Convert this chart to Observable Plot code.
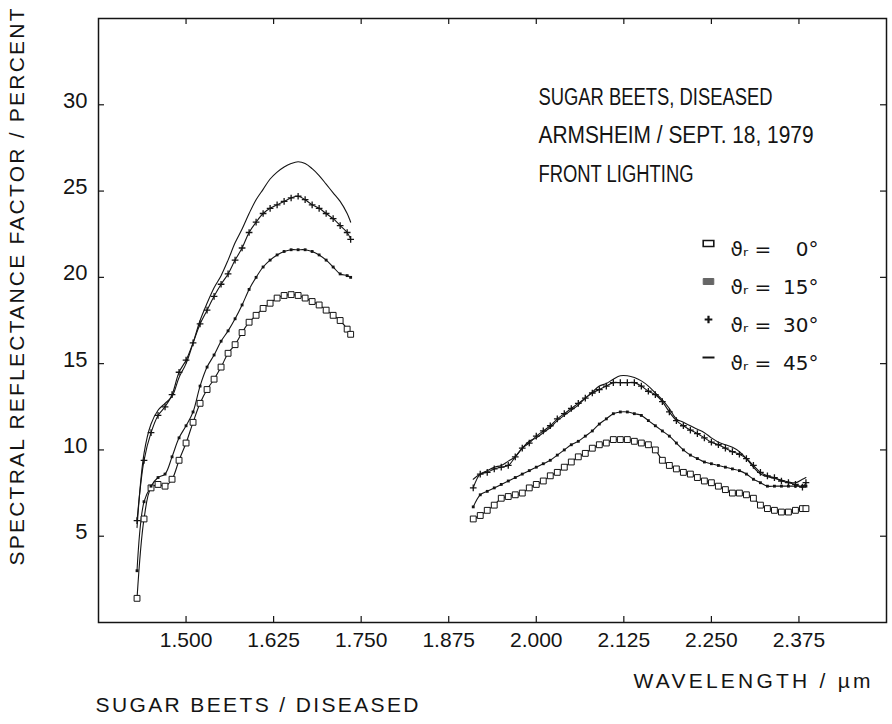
<!DOCTYPE html>
<html>
<head>
<meta charset="utf-8">
<script src="https://cdn.jsdelivr.net/npm/d3@7"></script>
<script src="https://cdn.jsdelivr.net/npm/@observablehq/plot@0.6"></script>
<style>
  html, body { margin: 0; padding: 0; background: #ffffff; }
  #chart { width: 892px; height: 724px; }
</style>
</head>
<body>
<div id="chart"></div>
<script>
// ---------------- data ----------------
const seriesNames = ["0°", "15°", "30°", "45°"];

// wavelength (µm) of the sampled points, first and second measured band
const wlBand1 = [1.43,1.44,1.45,1.46,1.47,1.48,1.49,1.50,1.51,1.52,1.53,1.54,1.55,1.56,1.57,1.58,1.59,1.60,1.61,1.62,1.63,1.64,1.65,1.66,1.67,1.68,1.69,1.70,1.71,1.72,1.73,1.735];
const wlBand2 = [1.91,1.92,1.93,1.94,1.95,1.96,1.97,1.98,1.99,2.00,2.01,2.02,2.03,2.04,2.05,2.06,2.07,2.08,2.09,2.10,2.11,2.12,2.13,2.14,2.15,2.16,2.17,2.18,2.19,2.20,2.21,2.22,2.23,2.24,2.25,2.26,2.27,2.28,2.29,2.30,2.31,2.32,2.33,2.34,2.35,2.36,2.37,2.38,2.385];

// spectral reflectance factor (percent), band 1
const r0Band1  = [1.4,6.0,7.8,8.0,7.9,8.3,9.4,10.4,11.6,12.7,13.5,14.1,14.8,15.6,16.1,16.8,17.4,17.8,18.2,18.5,18.8,18.95,19.0,18.95,18.8,18.6,18.4,18.1,17.8,17.5,17.0,16.7];
const r15Band1 = [3.0,7.0,7.9,8.4,8.6,9.6,10.7,11.4,12.2,13.7,14.8,15.5,16.3,16.9,17.6,18.4,19.3,20.0,20.6,21.0,21.3,21.5,21.6,21.6,21.6,21.5,21.3,21.0,20.6,20.2,20.1,20.0];
const r30Band1 = [5.9,9.4,11.0,12.0,12.5,13.2,14.5,15.2,16.2,17.3,18.1,18.9,19.6,20.2,21.0,21.7,22.6,23.2,23.7,24.0,24.2,24.4,24.6,24.7,24.5,24.2,24.0,23.7,23.4,23.0,22.6,22.2];
const r45Band1 = [5.5,9.8,11.5,12.3,12.7,13.1,14.2,15.0,16.2,17.5,18.5,19.4,20.1,21.0,22.0,22.8,23.7,24.5,25.1,25.7,26.1,26.4,26.6,26.7,26.6,26.3,25.9,25.4,24.9,24.4,23.7,23.2];

// spectral reflectance factor (percent), band 2
const r0Band2  = [6.0,6.2,6.5,6.8,7.2,7.3,7.4,7.5,7.8,8.0,8.2,8.5,8.7,9.0,9.3,9.6,9.8,10.1,10.3,10.4,10.6,10.6,10.6,10.5,10.4,10.3,10.0,9.4,9.1,8.9,8.7,8.6,8.4,8.2,8.1,7.9,7.7,7.5,7.5,7.4,7.2,6.8,6.6,6.5,6.4,6.4,6.5,6.6,6.6];
const r15Band2 = [6.7,7.4,7.6,7.8,8.0,8.2,8.4,8.6,8.8,9.0,9.2,9.4,9.7,10.0,10.3,10.5,10.8,11.1,11.5,11.8,12.1,12.2,12.2,12.1,12.0,11.7,11.4,11.1,10.8,10.4,10.0,9.7,9.5,9.3,9.2,9.1,9.0,8.9,8.8,8.6,8.3,8.1,7.9,7.9,7.9,7.9,7.9,7.9,7.9];
const r30Band2 = [7.8,8.6,8.7,8.9,9.0,9.1,9.6,10.1,10.4,10.8,11.1,11.4,11.8,12.1,12.4,12.7,13.0,13.3,13.5,13.7,13.9,13.9,13.9,13.9,13.7,13.4,13.2,12.8,12.2,11.7,11.4,11.15,10.95,10.7,10.45,10.3,10.1,9.9,9.75,9.5,9.1,8.7,8.5,8.4,8.2,8.1,8.0,7.85,8.1];
const r45Band2 = [8.3,8.6,8.8,9.0,9.1,9.35,9.6,10.1,10.5,10.7,11.0,11.3,11.7,12.0,12.3,12.6,13.0,13.35,13.7,13.85,14.1,14.3,14.3,14.2,14.0,13.7,13.3,12.9,12.4,11.8,11.6,11.4,11.2,11.0,10.7,10.45,10.3,10.15,9.9,9.5,9.0,8.6,8.45,8.35,8.25,8.15,8.1,8.3,8.4];

// axis ticks and texts
const xTicks = [1.5, 1.625, 1.75, 1.875, 2.0, 2.125, 2.25, 2.375];
const xTickLabels = ["1.500", "1.625", "1.750", "1.875", "2.000", "2.125", "2.250", "2.375"];
const yTicks = [5, 10, 15, 20, 25, 30];
const yTickLabels = ["5", "10", "15", "20", "25", "30"];
const xLabel = "WAVELENGTH / µm";
const yLabel = "SPECTRAL REFLECTANCE FACTOR / PERCENT";
const caption = "SUGAR BEETS / DISEASED";
const annotation = ["SUGAR BEETS, DISEASED", "ARMSHEIM / SEPT. 18, 1979", "FRONT LIGHTING"];
const legendPrefix = "ϑᵣ =";

// ---------------- table ----------------
const byName = {
  "0°":  [r0Band1,  r0Band2],
  "15°": [r15Band1, r15Band2],
  "30°": [r30Band1, r30Band2],
  "45°": [r45Band1, r45Band2]
};
const rows = [];
for (const name of seriesNames) {
  const [b1, b2] = byName[name];
  wlBand1.forEach((w, i) => rows.push({series: name, band: 1, wl: w, r: b1[i]}));
  wlBand2.forEach((w, i) => rows.push({series: name, band: 2, wl: w, r: b2[i]}));
}
const only = (name) => rows.filter(d => d.series === name);

// ---------------- layout ----------------
const W = 892, H = 724;
const mT = 18, mR = 6, mB = 102, mL = 98;
const plotW = W - mL - mR, plotH = H - mT - mB;
const ink = "#141414";
const tick = 6;

// custom symbols
const rectSym = {draw(ctx, size) { const r = Math.sqrt(size / Math.PI); ctx.rect(-r * 1.15, -r * 0.65, r * 2.3, r * 1.3); }};
const dashSym = {draw(ctx, size) { const r = Math.sqrt(size / Math.PI); ctx.moveTo(-r, 0); ctx.lineTo(r, 0); }};

const legendSpecs = [
  {symbol: rectSym, r: 4.6, fill: "white", stroke: ink, strokeWidth: 1.6},
  {symbol: rectSym, r: 4.6, fill: "#666", stroke: "#666", strokeWidth: 1},
  {symbol: "plus", r: 2.6, fill: "none", stroke: ink, strokeWidth: 2.2},
  {symbol: dashSym, r: 6, fill: "none", stroke: ink, strokeWidth: 2}
];
const legendRowDy = [225, 263, 301, 339];

const legendMarks = seriesNames.flatMap((name, i) => [
  Plot.dot([name], {frameAnchor: "top-left", dx: 610, dy: legendRowDy[i], ...legendSpecs[i]}),
  Plot.text([legendPrefix], {frameAnchor: "top-left", dx: 632, dy: legendRowDy[i] - 2, text: d => d, textAnchor: "start", fontSize: 20, fontFamily: "DejaVu Sans", fill: ink}),
  Plot.text([name], {frameAnchor: "top-left", dx: 720, dy: legendRowDy[i] - 2, text: d => d, textAnchor: "end", fontSize: 20, fontFamily: "DejaVu Sans", fill: ink})
]);

const annotationMarks = annotation.map((line, i) =>
  Plot.text([line], {frameAnchor: "top-left", dx: 440, dy: 70 + i * 38.5, text: d => d, textAnchor: "start", fontSize: 23, fontFamily: "Liberation Sans", fill: ink})
);

const chart = Plot.plot({
  width: W,
  height: H,
  marginTop: mT, marginRight: mR, marginBottom: mB, marginLeft: mL,
  x: {domain: [1.375, 2.5]},
  y: {domain: [0, 35]},
  style: {background: "#ffffff", color: ink, fontFamily: "Liberation Sans", fontSize: "21px"},
  marks: [
    Plot.frame({stroke: ink, strokeWidth: 1.5}),
    // inward ticks on all four sides
    Plot.gridX(xTicks, {x: d => d, stroke: ink, strokeOpacity: 1, strokeWidth: 1.2, insetTop: plotH - tick}),
    Plot.gridX(xTicks, {x: d => d, stroke: ink, strokeOpacity: 1, strokeWidth: 1.2, insetBottom: plotH - tick}),
    Plot.gridY(yTicks, {y: d => d, stroke: ink, strokeOpacity: 1, strokeWidth: 1.2, insetRight: plotW - tick}),
    Plot.gridY(yTicks, {y: d => d, stroke: ink, strokeOpacity: 1, strokeWidth: 1.2, insetLeft: plotW - tick}),
    Plot.axisX(xTicks, {tickSize: 0, tickPadding: 10, label: null, fontSize: 21, tickFormat: d => xTickLabels[xTicks.indexOf(d)]}),
    Plot.axisY(yTicks, {tickSize: 0, tickPadding: 11, label: null, fontSize: 22, dy: -4, tickFormat: d => yTickLabels[yTicks.indexOf(d)]}),
    // curves
    Plot.line(rows, {x: "wl", y: "r", z: d => d.series + "-" + d.band, stroke: ink, strokeWidth: 1.1, curve: "catmull-rom"}),
    Plot.dot(only("0°"), {x: "wl", y: "r", symbol: "square", r: 3.3, fill: "white", stroke: ink, strokeWidth: 1}),
    Plot.dot(only("15°"), {x: "wl", y: "r", symbol: "square", r: 1.6, fill: ink, stroke: null}),
    Plot.dot(only("30°"), {x: "wl", y: "r", symbol: "plus", r: 2.3, stroke: ink, strokeWidth: 1.3}),
    // in-plot annotation and legend
    ...annotationMarks,
    ...legendMarks,
    // axis titles and caption
    Plot.text([yLabel], {frameAnchor: "left", dx: -81, dy: 245, rotate: -90, text: d => d, textAnchor: "start", fontSize: 21, fontFamily: "Liberation Sans", fill: ink}),
    Plot.text([xLabel], {frameAnchor: "bottom-right", dx: -16, dy: 65, text: d => d, textAnchor: "end", fontSize: 21, fontFamily: "Liberation Sans", fill: ink}),
    Plot.text([caption], {frameAnchor: "bottom-left", dx: -3, dy: 89, text: d => d, textAnchor: "start", fontSize: 21, fontFamily: "Liberation Sans", fill: ink})
  ]
});

// stretch / squeeze a few texts to the plotter lettering widths
const fits = new Map([
  [yLabel, [557, "spacing"]],
  [xLabel, [237, "spacing"]],
  [caption, [323, "spacing"]],
  [annotation[0], [234, "spacingAndGlyphs"]],
  [annotation[1], [275, "spacingAndGlyphs"]],
  [annotation[2], [155, "spacingAndGlyphs"]]
]);
chart.querySelectorAll("text").forEach(t => {
  const f = fits.get(t.textContent);
  if (f) { t.setAttribute("textLength", f[0]); t.setAttribute("lengthAdjust", f[1]); }
});

document.getElementById("chart").appendChild(chart);
</script>
</body>
</html>
